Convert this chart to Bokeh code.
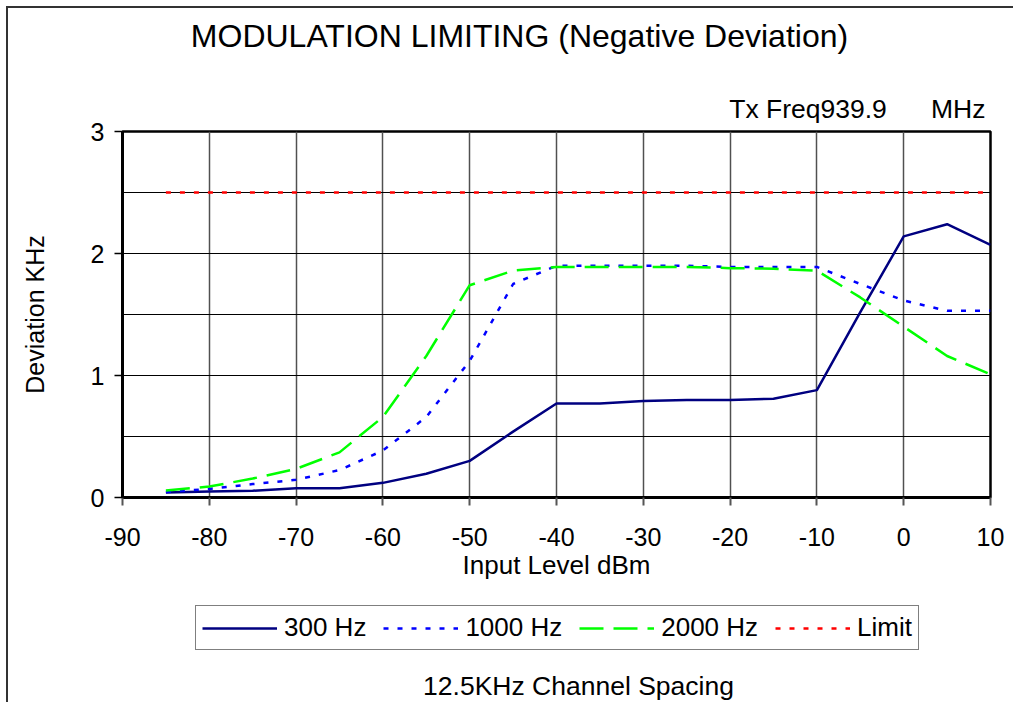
from bokeh.plotting import figure
from bokeh.models import (Range1d, FixedTicker, Legend, LegendItem, Label, Title)
from bokeh.layouts import column
from bokeh.embed import file_html
from bokeh.resources import INLINE

# ---- data ----
input_level = [-85, -80, -75, -70, -65, -60, -55, -50, -45, -40,
               -35, -30, -25, -20, -15, -10, -5, 0, 5, 10]
dev_300 = [0.04, 0.05, 0.055, 0.075, 0.075, 0.12, 0.195, 0.30, 0.54, 0.77,
           0.77, 0.79, 0.80, 0.80, 0.81, 0.88, 1.52, 2.14, 2.24, 2.07]
dev_1000 = [0.045, 0.07, 0.11, 0.145, 0.225, 0.385, 0.66, 1.12, 1.75, 1.90,
            1.90, 1.90, 1.90, 1.89, 1.89, 1.89, 1.75, 1.615, 1.53, 1.53]
dev_2000 = [0.057, 0.09, 0.155, 0.235, 0.37, 0.66, 1.16, 1.74, 1.86, 1.89,
            1.89, 1.89, 1.89, 1.88, 1.875, 1.86, 1.64, 1.40, 1.16, 1.01]
limit = [2.5] * len(input_level)

series_names = ["300 Hz", "1000 Hz", "2000 Hz", "Limit"]
series_colors = ["#000080", "#0000FF", "#00FF00", "#FF0000"]
series_dash = ["solid", "5 9", "24 10", "5 9"]
x_ticks = [-90, -80, -70, -60, -50, -40, -30, -20, -10, 0, 10]
y_ticks = [0, 1, 2, 3]
y_minor = [0.5, 1.5, 2.5]

title_text = "MODULATION LIMITING (Negative Deviation)"
freq_text = "Tx Freq939.9" + "\u00a0" * 6 + "MHz"
caption_text = "12.5KHz Channel Spacing"

FONT = "Liberation Sans"
FRAME_W = 868


def strip(height):
    """A blank figure whose frame is aligned with the chart frame; data units = pixels."""
    f = figure(width=1005, height=height, output_backend="svg",
               toolbar_location=None, title=None,
               x_range=Range1d(0, FRAME_W), y_range=Range1d(0, height),
               min_border_left=114, min_border_right=23,
               min_border_top=0, min_border_bottom=0)
    f.axis.visible = False
    f.grid.visible = False
    f.outline_line_color = None
    f.background_fill_color = "white"
    f.border_fill_color = "white"
    return f


# ---------------- title strip ----------------
p0 = strip(71)
p0.add_layout(Label(x=397, y=44, text=title_text, text_align="center",
                    text_baseline="middle", text_font=FONT,
                    text_font_size="32px", text_color="black"))

# ---------------- main chart ----------------
p = figure(width=1005, height=511, output_backend="svg", toolbar_location=None,
           title=None,
           x_range=Range1d(-90, 10), y_range=Range1d(0, 3),
           min_border_left=114, min_border_right=23,
           min_border_top=52, min_border_bottom=93)

p.background_fill_color = "white"
p.border_fill_color = "white"
p.outline_line_color = "black"
p.outline_line_width = 2.5

p.add_layout(Title(text=freq_text, align="right", offset=5, standoff=16,
                   text_font=FONT, text_font_size="26.5px",
                   text_font_style="normal", text_color="black"), "above")

p.xaxis.ticker = FixedTicker(ticks=x_ticks)
p.xaxis.major_label_overrides = {t: str(t) for t in x_ticks}
p.yaxis.ticker = FixedTicker(ticks=y_ticks, minor_ticks=y_minor)
p.yaxis.major_label_overrides = {t: str(t) for t in y_ticks}
p.xaxis.axis_label = "Input Level dBm"
p.yaxis.axis_label = "Deviation KHz"
for ax in (p.xaxis[0], p.yaxis[0]):
    ax.axis_line_color = "black"
    ax.axis_line_width = 3
    ax.major_label_text_font = FONT
    ax.major_label_text_font_size = "25px"
    ax.major_label_text_color = "black"
    ax.axis_label_text_font = FONT
    ax.axis_label_text_font_style = "normal"
    ax.axis_label_text_color = "black"
    ax.major_tick_in = 0
    ax.major_tick_out = 8
    ax.minor_tick_in = 0
    ax.minor_tick_out = 0
p.xaxis.axis_label_text_font_size = "26px"
p.yaxis.axis_label_text_font_size = "25px"
p.xaxis.major_tick_line_color = "#555555"
p.xaxis.major_tick_line_width = 2
p.yaxis.major_tick_line_color = "black"
p.yaxis.major_tick_line_width = 1.5
p.xaxis.major_label_standoff = 22
p.yaxis.major_label_standoff = 10
p.xaxis.axis_label_standoff = 1
p.yaxis.axis_label_standoff = 39

p.xgrid.grid_line_color = "#505050"
p.xgrid.grid_line_width = 1.5
p.ygrid.grid_line_color = "black"
p.ygrid.grid_line_width = 1
p.ygrid.minor_grid_line_color = "black"
p.ygrid.minor_grid_line_width = 1

series_values = [dev_300, dev_1000, dev_2000, limit]
for vals, col, dash in zip(series_values, series_colors, series_dash):
    p.line(input_level, vals, line_color=col, line_width=2.5, line_dash=dash)

# ---------------- legend + caption strip ----------------
p2 = strip(112)
items = []
for name, vals, col, dash in zip(series_names, series_values, series_colors, series_dash):
    r = p2.line(input_level, vals, line_color=col, line_width=2.5,
                line_dash=dash, visible=False)
    items.append(LegendItem(label=name, renderers=[r]))

legend = Legend(items=items, orientation="horizontal", location=(73, 52),
                label_text_font=FONT, label_text_font_size="26px",
                label_text_color="black",
                glyph_width=75, glyph_height=20, label_standoff=7,
                spacing=17, padding=6, margin=0,
                border_line_color="black", border_line_width=1,
                background_fill_color="white", background_fill_alpha=1,
                inactive_fill_alpha=0)
p2.add_layout(legend, "center")

p2.add_layout(Label(x=456, y=17, text=caption_text, text_align="center",
                    text_baseline="middle", text_font=FONT,
                    text_font_size="26.5px", text_color="black"))

layout = column(p0, p, p2, spacing=0,
                styles={"margin-left": "6px", "margin-top": "6px",
                        "border-left": "2px solid #333",
                        "border-top": "2px solid #333"})

open("out.html", "w").write(file_html(layout, INLINE))
